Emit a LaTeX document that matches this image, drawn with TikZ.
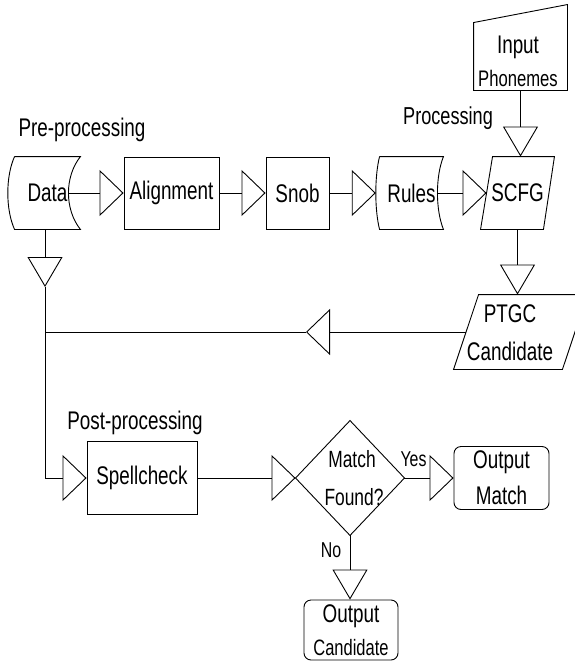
\documentclass[tikz,border=0pt]{standalone}
\usepackage{fontspec}
\setmainfont{Liberation Sans}[FakeStretch=0.74]
\usetikzlibrary{arrows.meta}

\begin{document}
\begin{tikzpicture}[x=1pt,y=-1pt,
  line width=0.9pt,
  every node/.style={inner sep=0pt, font=\fontsize{25.5}{35}\selectfont, align=center},
  box/.style={draw, minimum height=72pt},
  frame/.style={draw=none, minimum height=72pt},
  htip/.style={-{Triangle[open,length=24pt,width=46pt]}},
  vtip/.style={-{Triangle[open,length=30pt,width=35pt]}},
  smalllbl/.style={font=\fontsize{21.5}{24}\selectfont},
]
\useasboundingbox (0,0) rectangle (574,662);

% --- pre-processing row ---
\node (pre) at (82,130) {Pre-processing};
\node[frame, minimum width=65pt] (data) at (47.5,193) {Data};
\draw (data.north west) -- (data.north east)
  .. controls ([shift={(-16pt,-20pt)}]data.north east) and ([shift={(-16pt,20pt)}]data.south east) .. (data.south east)
  -- (data.south west)
  .. controls ([shift={(-9pt,20pt)}]data.south west) and ([shift={(-9pt,-20pt)}]data.north west) .. (data.north west);

\node[box, minimum width=95pt] (align) at (171.5,193) {Alignment};
\node[box, minimum width=63pt] (snob) at (297.5,193) {Snob};

\node[frame, minimum width=63pt] (rules) at (411.5,193) {Rules};
\draw (rules.north west) -- (rules.north east)
  .. controls ([shift={(-8pt,-20pt)}]rules.north east) and ([shift={(-8pt,20pt)}]rules.south east) .. (rules.south east)
  -- (rules.south west)
  .. controls ([shift={(-5pt,20pt)}]rules.south west) and ([shift={(-5pt,-20pt)}]rules.north west) .. (rules.north west);

% --- processing ---
\node[font=\fontsize{24.5}{30}\selectfont] (proc) at (448,118) {Processing};
\node[frame, minimum width=73pt] (scfg) at (517.5,193) {SCFG};
\draw ([xshift=12pt]scfg.north west) -- (scfg.north east) -- ([xshift=-11pt]scfg.south east) -- (scfg.south west) -- cycle;

\node[frame, minimum width=93pt, minimum height=85pt] (input) at (520.5,47.5) {};
\draw (input.north east) -- (input.south east) -- (input.south west) -- ([yshift=-18pt]input.north west) -- cycle;
\node[font=\fontsize{25.5}{33}\selectfont] (inputtext) at (518,61) {Input\\{\fontsize{22.5}{33}\selectfont Phonemes}};

\node[frame, minimum width=133pt, minimum height=74pt] (ptgc) at (520.5,332) {};
\draw ([xshift=25pt]ptgc.north west) -- (ptgc.north east) -- ([xshift=-25pt]ptgc.south east) -- (ptgc.south west) -- cycle;
\node[font=\fontsize{25.5}{38}\selectfont] (ptgctext) at (510,333) {PTGC\\Candidate};

% --- post-processing row ---
\node (post) at (135,422.5) {Post-processing};
\node[box, minimum width=110pt, minimum height=73pt] (spell) at (142,478) {Spellcheck};
\node[frame, minimum width=108pt, minimum height=114pt, font=\fontsize{23.5}{38}\selectfont] (dec) at (350,478) {\hspace*{4pt}Match\\\hspace*{8pt}Found?};
\draw (dec.west) -- (dec.north) -- (dec.east) -- (dec.south) -- cycle;
\node[draw, rounded corners=7pt, minimum width=95pt, minimum height=63pt, font=\fontsize{25.5}{36}\selectfont] (outmatch) at (501.5,478) {Output\\Match};
\node[draw, rounded corners=7pt, minimum width=94pt, minimum height=60pt, font=\fontsize{25.5}{33}\selectfont] (outcand) at (351,630) {Output\\{\fontsize{22.3}{33}\selectfont Candidate}};
\node[smalllbl] (yes) at (413.5,459) {Yes};
\node[smalllbl] (no) at (331,550) {No};

% --- connectors ---
\coordinate (looptip) at (306,332);
\coordinate (dtip) at (45,287);
\draw[htip] ([xshift=-12pt]data.east) -- (align.west);
\draw[htip] (align.east) -- (snob.west);
\draw[htip] (snob.east) -- ([xshift=-3.75pt]rules.west);
\draw[htip] ([xshift=-6pt]rules.east) -- ([xshift=6pt]scfg.west);
\draw[vtip] (input.south) -- (input.south |- scfg.north);
\draw[vtip] (scfg.south) -- (scfg.south |- ptgc.north);
\draw[htip] ([xshift=12.5pt]ptgc.west) -- (looptip);
\draw (looptip) -- (looptip -| dtip);
\draw[vtip] ([xshift=-2.5pt]data.south) -- (dtip);
\draw[htip] (dtip) |- (spell.west);
\draw[htip] (spell.east) -- (dec.west);
\draw[htip] (dec.east) -- (outmatch.west);
\draw[vtip] (dec.south) -- (dec.south |- outcand.north);
\end{tikzpicture}
\end{document}
